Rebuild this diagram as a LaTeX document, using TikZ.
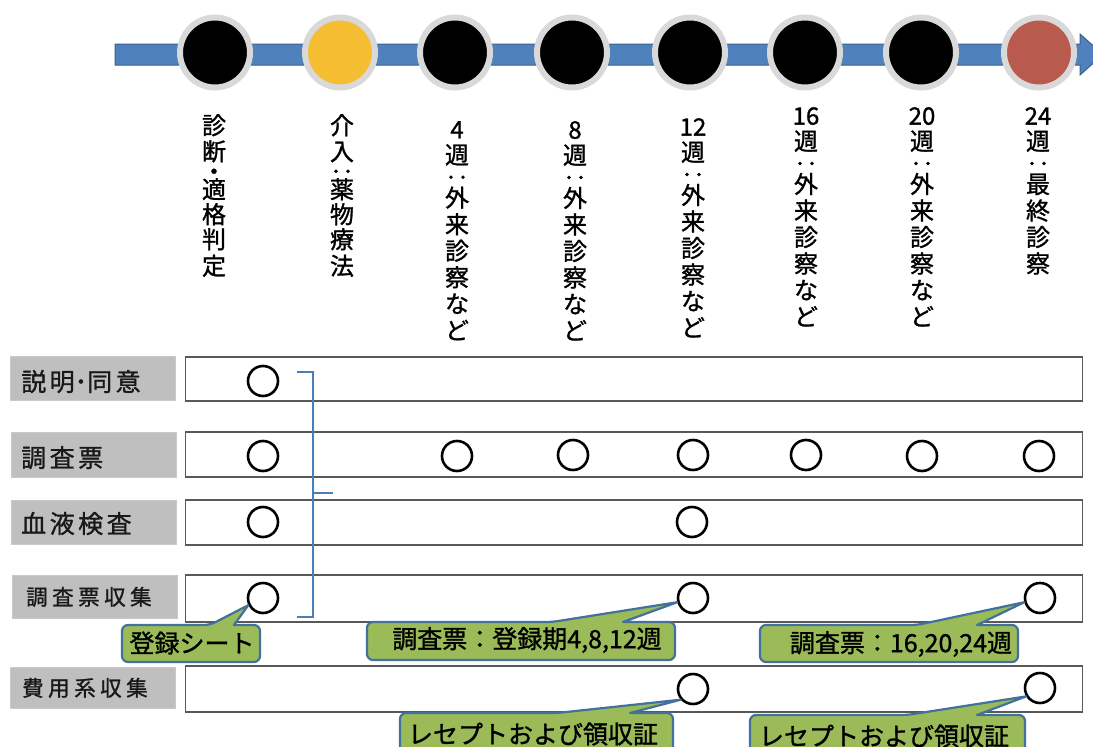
\documentclass[tikz,border=0pt]{standalone}
\usepackage{fontspec}
\setmainfont{Noto Sans CJK JP}[FakeBold=1.2]
\usetikzlibrary{calc}
\definecolor{barblue}{HTML}{4F81BD}
\definecolor{barline}{HTML}{3A5F8E}
\definecolor{ringgray}{HTML}{D9D9D9}
\definecolor{dotyellow}{HTML}{F5BD31}
\definecolor{dotred}{HTML}{B85A4E}
\definecolor{rowgray}{HTML}{595959}
\definecolor{labgray}{HTML}{BFBFBF}
\definecolor{brkblue}{HTML}{4A7EBB}
\definecolor{cofill}{HTML}{9BBB59}
\definecolor{coline}{HTML}{41719C}
\newcommand\jk{\kern3.5pt}
\newcommand\jkb{\kern4.5pt}
\begin{document}
\begin{tikzpicture}[x=1pt,y=-1pt,
  tdot/.style={circle,minimum size=70pt,inner sep=0pt,draw=ringgray,line width=6pt},
  vlab/.style={anchor=north,align=center,inner sep=0pt,font=\fontsize{24}{26.5}\selectfont},
  rowbox/.style={draw=rowgray,line width=1.2pt,fill=white,minimum width=897pt,inner sep=0pt},
  labbox/.style={fill=labgray,draw=labgray!85!white,line width=0.6pt,minimum width=165pt,inner sep=0pt},
  labA/.style={anchor=base west,inner sep=0pt,font=\fontsize{25}{28}\selectfont,text=black!90},
  labB/.style={anchor=base west,inner sep=0pt,font=\fontsize{21.5}{25}\selectfont,text=black!90},
  mk/.style={circle,draw=black,line width=2.6pt,minimum size=30pt,inner sep=0pt},
  brk/.style={draw=brkblue,line width=2.6pt},
  cobox/.style={draw=coline,fill=cofill,line width=2.2pt,rounded corners=6pt,line join=round},
  cotext/.style={inner sep=0pt,font=\fontsize{25}{28}\selectfont,text=black}]
\useasboundingbox (0,0) rectangle (1093,747);

% timeline arrow
\draw[fill=barblue,draw=barline,line width=1pt]
  (115,44) -- (1080,44) -- (1080,34) -- (1103,54.5) -- (1080,75) -- (1080,65) -- (115,65) -- cycle;
\node[tdot,fill=black]     (t1) at (215,52.5) {};
\node[tdot,fill=dotyellow] (t2) at (340,52.5) {};
\node[tdot,fill=black]     (t3) at (455,52.5) {};
\node[tdot,fill=black]     (t4) at (572,52.5) {};
\node[tdot,fill=black]     (t5) at (690,52.5) {};
\node[tdot,fill=black]     (t6) at (805,52.5) {};
\node[tdot,fill=black]     (t7) at (921,52.5) {};
\node[tdot,fill=dotred]    (t8) at (1039,52.5) {};

% vertical labels
\node[vlab] (v1) at (214,114) {診\\[-0.5pt]断\\[-6.5pt]・\\[-8.5pt]適\\[-1.5pt]格\\[-1.5pt]判\\定};
\node[vlab] (v2) at (342,114) {介\\[-0.5pt]入\\[-6.5pt]‥\\[-8.5pt]薬\\[-1.5pt]物\\[-1.5pt]療\\法};
\node[vlab] (v3) at (457,121) {4\\[-1pt]週\\[-4pt]‥\\[-6pt]外\\来\\診\\察\\な\\ど};
\node[vlab] (v4) at (575,121) {8\\[-1pt]週\\[-4pt]‥\\[-6pt]外\\来\\診\\察\\な\\ど};
\node[vlab] (v5) at (693,118) {12\\[-1pt]週\\[-4pt]‥\\[-6pt]外\\来\\診\\察\\な\\ど};
\node[vlab] (v6) at (806,107) {16\\[-1pt]週\\[-4pt]‥\\[-6pt]外\\来\\診\\察\\な\\ど};
\node[vlab] (v7) at (922,107) {20\\[-1pt]週\\[-4pt]‥\\[-6pt]外\\来\\診\\察\\な\\ど};
\node[vlab] (v8) at (1038,107) {24\\[-1pt]週\\[-4pt]‥\\[-6pt]最\\終\\診\\察};

% row boxes
\node[rowbox,minimum height=44pt] (row1) at (634,379) {};
\node[rowbox,minimum height=45pt] (row2) at (634,454.5) {};
\node[rowbox,minimum height=45pt] (row3) at (634,522.5) {};
\node[rowbox,minimum height=47pt] (row4) at (634,598.5) {};
\node[rowbox,minimum height=46pt] (row5) at (634,689) {};

% row labels
\node[labbox,minimum height=44pt] (lb1) at (92.5,378) {};
\node[labbox,minimum height=45pt] (lb2) at (93.5,454.5) {};
\node[labbox,minimum height=44pt] (lb3) at (93.5,522) {};
\node[labbox,minimum height=43pt] (lb4) at (95,596.5) {};
\node[labbox,minimum height=41pt] (lb5) at (92.5,687.5) {};
\node[labA] (lt1) at (21,391) {説\jk 明･同\jk 意};
\node[labA] (lt2) at (21,467) {調\jk 査\jk 票};
\node[labA] (lt3) at (21,533) {血\jk 液\jk 検\jk 査};
\node[labB] (lt4) at (26,605) {調\jkb 査\jkb 票\jkb 収\jkb 集};
\node[labB] (lt5) at (22,696) {費\jkb 用\jkb 系\jkb 収\jkb 集};

% circle marks
\node[mk] (m11) at (263,381) {};
\node[mk] (m21) at (263,456) {};
\node[mk] (m22) at (457,456) {};
\node[mk] (m23) at (573,455) {};
\node[mk] (m24) at (693,455) {};
\node[mk] (m25) at (806,455) {};
\node[mk] (m26) at (922,456) {};
\node[mk] (m27) at (1039,456) {};
\node[mk] (m31) at (263,522) {};
\node[mk] (m32) at (692,522) {};
\node[mk] (m41) at (263,598) {};
\node[mk] (m42) at (693,598) {};
\node[mk] (m43) at (1040,598) {};
\node[mk] (m52) at (693,689) {};
\node[mk] (m53) at (1040,688) {};

% bracket
\draw[brk] (297,372) -- (313,372) -- (313,617) -- (297,617);
\draw[brk] (313,493) -- (333,493);

% callouts
\draw[cobox] (122,625) -- (210,625) [sharp corners] -- (m41.206) -- (234,625) [rounded corners=6pt] -- (260,625) -- (260,662) -- (122,662) -- cycle;
\node[cotext] (c1) at (192,643) {登録シート};

\draw[cobox] (367,622) -- (552,622) [sharp corners] -- (m42.195) -- (623,622) [rounded corners=6pt] -- (675,622) -- (675,660) -- (367,660) -- cycle;
\node[cotext] (c2) at (527,640) {調査票：登録期4,8,12週};

\draw[cobox] (760,625) -- (917,625) [sharp corners] -- (m43.195) -- (977,625) [rounded corners=6pt] -- (1018,625) -- (1018,662) -- (760,662) -- cycle;
\node[cotext] (c3) at (901,644) {調査票：16,20,24週};

\draw[cobox] (400,713) -- (557,713) [sharp corners] -- (m52.221) -- (630,713) [rounded corners=6pt] -- (673,713) -- (673,756) -- (400,756) -- cycle;
\node[cotext] (c4) at (533,734) {レセプトおよび領収証};

\draw[cobox] (750,715) -- (907,715) [sharp corners] -- (m53.211) -- (977,715) [rounded corners=6pt] -- (1025,715) -- (1025,758) -- (750,758) -- cycle;
\node[cotext] (c5) at (884,736) {レセプトおよび領収証};
\end{tikzpicture}
\end{document}
